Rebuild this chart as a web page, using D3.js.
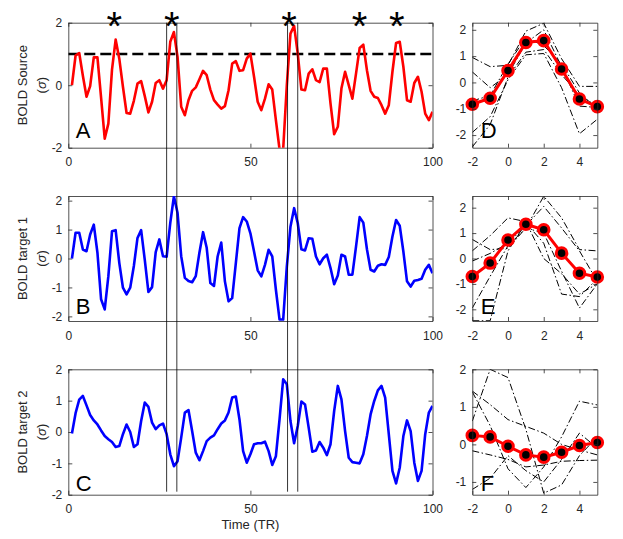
<!DOCTYPE html>
<html>
<head>
<meta charset="utf-8">
<script src="https://cdn.jsdelivr.net/npm/d3@7"></script>
<style>
  body { margin: 0; background: #fff; }
  text { font-family: "Liberation Sans", Arial, sans-serif; }
</style>
</head>
<body>
<div id="chart"></div>
<script>
// BOLD time series, one value per TR (1..100)
const sourceVals = [0, 0.95, 1.03, 0.3, -0.37, -0.03, 0.89, 0.89, -0.4, -1.71,
  -1.23, 0.5, 1.46, 0.85, -0.05, -0.89, -0.91, -0.5, 0.05, 0.13,
  -0.35, -0.87, -0.53, 0.07, 0.16, -0.11, 0.16, 1.39, 1.7, 0.9,
  -0.69, -0.96, -0.48, -0.18, -0.07, 0.19, 0.46, 0.32, -0.14, -0.48,
  -0.62, -0.75, -0.67, -0.16, 0.69, 0.77, 0.46, 0.48, 0.85, 1.01,
  0.27, -0.53, -0.8, -0.43, 0.03, -0.14, -1.12, -2.05, -2.05, 0.0,
  1.65, 1.9, 1.01, -0.14, -0.16, 0.37, 0.51, 0.16, 0.1, 0.53,
  0.53, -0.59, -1.57, -1.33, -0.1, 0.43, 0, -0.43, 0.37, 1.19,
  1.3, 0.48, -0.18, -0.37, -0.41, -0.64, -0.91, -0.64, 0.43, 1.35,
  1.39, 0.59, -0.48, -0.53, 0.07, 0.27, -0.21, -0.91, -1.12, -0.85];

const target1Vals = [0, 0.89, 0.89, 0.31, 0.25, 0.83, 1.17, 0.2, -1.41, -1.76,
  -0.61, 0.94, 0.98, -0.15, -1.01, -1.24, -1.01, -0.26, 0.71, 0.98,
  -0.05, -1.16, -0.99, 0.22, 0.66, 0.08, 0.06, 1.23, 2.15, 1.57,
  0.08, -0.67, -0.78, -0.82, -0.61, 0.2, 0.91, 0.37, -0.85, -0.95,
  0.07, 0.55, -0.79, -1.48, -1.37, -0.16, 1.05, 1.43, 1.28, 0.87,
  0.24, -0.41, -0.62, -0.22, 0.3, 0.07, -1.08, -2.11, -2.11, -0.28,
  1.1, 1.74, 1.22, 0.32, 0.28, 0.7, 0.68, 0.07, -0.2, 0.01,
  0.13, -0.33, -0.89, -0.59, 0.13, 0.07, -0.56, -0.56, 0.41, 1.43,
  1.24, 0.32, -0.39, -0.45, -0.25, -0.2, -0.22, 0.05, 0.76, 1.33,
  1.13, 0.24, -0.79, -0.97, -0.77, -0.74, -0.7, -0.39, -0.22, -0.51];

const target2Vals = [-0.05, 0.6, 1.03, 1.15, 0.85, 0.54, 0.37, 0.24, 0.05, -0.13,
  -0.23, -0.32, -0.48, -0.45, -0.07, 0.24, 0.0, -0.48, -0.39, 0.35,
  0.94, 0.8, 0.3, 0.09, 0.21, 0.27, -0.07, -0.71, -1.09, -0.93,
  -0.18, 0.62, 0.7, 0.03, -0.66, -0.9, -0.61, -0.29, -0.18, -0.11,
  0.09, 0.27, 0.37, 0.62, 1.1, 1.13, 0.4, -0.61, -0.98, -0.71,
  -0.39, -0.36, -0.36, -0.31, -0.61, -1.05, -0.77, 0.4, 1.68, 1.52,
  0.35, -0.36, 0.19, 0.97, 0.88, 0.14, -0.63, -0.59, -0.32, -0.5,
  -0.74, -0.39, 0.67, 1.47, 1.04, 0.03, -0.82, -0.96, -0.98, -1.0,
  -0.71, -0.13, 0.56, 0.99, 1.33, 1.47, 1.1, -0.07, -1.24, -1.64,
  -1.14, -0.13, 0.37, 0.03, -0.98, -1.56, -1.24, -0.07, 0.62, 0.83];

const threshold = 1;
const eventTimes = [12.6, 28.4, 60.6, 80, 90.2];   // stars
const windowEdges = [27, 29.8, 60.2, 63];          // vertical lines

// event-locked segments, lags -2..5
const lags = [-2, -1, 0, 1, 2, 3, 4, 5];
const segSource = [
  [0.95, 0.6, 0.65, 1.95, 2.25, 0.9, -0.15, -0.15],
  [0.4, -0.2, 0.3, 1.5, 2.0, 0.6, -0.9, -0.95],
  [-1.9, -1.3, 0.1, 1.05, 1.1, -0.2, -1.95, -1.4],
  [-2.45, -1.6, 0.2, 1.15, 1.25, 0.3, -0.5, -0.9],
  [-0.7, -0.5, 0.7, 1.7, 1.4, 0.7, -0.4, -1.0]
];
const meanSource = [-0.83, -0.6, 0.45, 1.52, 1.59, 0.51, -0.63, -0.92];

const segTarget1 = [
  [0.75, 0.35, 0.4, 1.2, 2.45, 1.6, 0.35, 0.3],
  [0.3, 0.9, 1.6, 1.45, 0.0, -0.6, -1.4, -1.0],
  [-0.1, 0.2, 0.6, 1.3, 2.05, 1.2, 0.3, -0.9],
  [-1.95, -0.7, 0.5, 1.2, 1.0, -0.5, -1.95, -1.0],
  [-2.45, -2.45, 0.3, 1.4, 0.6, -1.4, -1.5, -0.8]
];
const meanTarget1 = [-0.71, -0.18, 0.73, 1.35, 1.13, 0.21, -0.58, -0.73];

const segTarget2 = [
  [0.62, 2.0, 1.78, 0.4, -1.3, -1.08, -0.3, 0.2],
  [1.42, 1.06, 0.66, 0.48, 0.3, 0.0, -0.15, -0.28],
  [1.4, 0.5, -0.65, -1.15, -0.6, 0.2, 1.15, 1.05],
  [-0.17, -0.28, -0.4, -0.6, -0.55, -0.45, -0.43, -0.42],
  [-1.2, -0.9, -0.3, -0.7, -1.0, -0.4, 0.3, -0.1]
];
const meanTarget2 = [0.24, 0.2, -0.05, -0.28, -0.34, -0.21, -0.03, 0.05];

const timeTicks = [0, 50, 100];
const lagTicks = [-2, 0, 2, 4];

const width = 623, height = 539;
const ink = '#262626';
const fmt = d => String(d);   // plain hyphen minus, no decimals

const svg = d3.select('#chart')
  .append('svg')
  .attr('width', width)
  .attr('height', height);

const xTime = d3.scaleLinear().domain([0, 100]).range([68.3, 432.5]);
const xLag = d3.scaleLinear().domain([-2, 5]).range([472.3, 597.3]);

const rows = [
  { vals: sourceVals, color: '#ff0000', top: 22.7, bottom: 147.7, dom: [-2, 2], ticks: [-2, 0, 2],
    name: 'BOLD Source', letter: 'A', letterOff: 9.7,
    seg: segSource, mean: meanSource, lagDom: [-2.48, 2.27], lagLetter: 'D', lagLetterOff: 9.7 },
  { vals: target1Vals, color: '#0000ff', top: 196, bottom: 321, dom: [-2.16, 2.16], ticks: [-2, -1, 0, 1, 2],
    name: 'BOLD target 1', letter: 'B', letterOff: 7,
    seg: segTarget1, mean: meanTarget1, lagDom: [-2.46, 2.46], lagLetter: 'E', lagLetterOff: 7 },
  { vals: target2Vals, color: '#0000ff', top: 369.3, bottom: 494.7, dom: [-2, 2], ticks: [-2, -1, 0, 1, 2],
    name: 'BOLD target 2', letter: 'C', letterOff: 3.3,
    seg: segTarget2, mean: meanTarget2, lagDom: [-1.34, 2], lagLetter: 'F', lagLetterOff: 3.3 }
];

const styleAxis = (g) => {
  g.selectAll('.domain').attr('stroke', ink).attr('stroke-width', 0.8);
  g.selectAll('.tick line').attr('stroke', ink).attr('stroke-width', 0.8);
  g.selectAll('.tick text').attr('fill', ink).style('font-size', '12px')
    .style('font-family', '"Liberation Sans", Arial, sans-serif');
};

// box with inward ticks on all four sides
const drawBox = (x, y, xt, yt, top, bottom) => {
  const [x0, x1] = x.range();
  svg.append('g').attr('transform', `translate(0,${bottom})`)
    .call(d3.axisBottom(x).tickValues(xt).tickFormat(fmt).tickSize(-4).tickSizeOuter(0).tickPadding(10))
    .call(styleAxis);
  svg.append('g').attr('transform', `translate(0,${top})`)
    .call(d3.axisTop(x).tickValues(xt).tickSize(-4).tickSizeOuter(0).tickFormat(''))
    .call(styleAxis);
  svg.append('g').attr('transform', `translate(${x0},0)`)
    .call(d3.axisLeft(y).tickValues(yt).tickFormat(fmt).tickSize(-4).tickSizeOuter(0).tickPadding(6))
    .call(styleAxis);
  svg.append('g').attr('transform', `translate(${x1},0)`)
    .call(d3.axisRight(y).tickValues(yt).tickSize(-4).tickSizeOuter(0).tickFormat(''))
    .call(styleAxis);
};

const clipRect = (id, x, top, bottom) => {
  const [x0, x1] = x.range();
  svg.append('clipPath').attr('id', id)
    .append('rect')
    .attr('x', x0).attr('y', top)
    .attr('width', x1 - x0).attr('height', bottom - top);
};

rows.forEach((r, i) => {
  // ---- time series panel ----
  const y = d3.scaleLinear().domain(r.dom).range([r.bottom, r.top]);
  drawBox(xTime, y, timeTicks, r.ticks, r.top, r.bottom);
  clipRect('clipT' + i, xTime, r.top, r.bottom);

  const line = d3.line()
    .x((d, k) => xTime(k + 1))
    .y(d => y(d));

  const plot = svg.append('g').attr('clip-path', `url(#clipT${i})`);

  if (i === 0) {
    plot.append('line')
      .attr('x1', xTime(0)).attr('x2', xTime(100))
      .attr('y1', y(threshold)).attr('y2', y(threshold))
      .attr('stroke', '#000')
      .attr('stroke-width', 2.6)
      .attr('stroke-dasharray', '11,5');
  }

  plot.append('path')
    .datum(r.vals)
    .attr('fill', 'none')
    .attr('stroke', r.color)
    .attr('stroke-width', 2.6)
    .attr('stroke-linejoin', 'round')
    .attr('d', line);

  svg.append('text')
    .attr('x', xTime(0) + 7.5)
    .attr('y', r.bottom - r.letterOff)
    .style('font-size', '22px')
    .attr('fill', '#000')
    .text(r.letter);

  const cy = (r.top + r.bottom) / 2;
  svg.append('text')
    .attr('transform', `translate(22,${cy}) rotate(-90)`)
    .attr('text-anchor', 'middle')
    .attr('dominant-baseline', 'central')
    .attr('fill', ink)
    .style('font-size', '13px')
    .text(r.name);
  svg.append('text')
    .attr('transform', `translate(41,${cy}) rotate(-90)`)
    .attr('text-anchor', 'middle')
    .attr('dominant-baseline', 'central')
    .attr('fill', ink)
    .style('font-size', '13px')
    .html('(<tspan font-style="italic">σ</tspan>)');

  // ---- event-locked panel ----
  const yL = d3.scaleLinear().domain(r.lagDom).range([r.bottom, r.top]);
  const yLt = d3.range(Math.ceil(r.lagDom[0]), Math.floor(r.lagDom[1]) + 1);
  clipRect('clipL' + i, xLag, r.top, r.bottom);
  const lp = svg.append('g').attr('clip-path', `url(#clipL${i})`);

  const lagLine = d3.line()
    .x((d, k) => xLag(lags[k]))
    .y(d => yL(d));

  lp.selectAll('path.seg')
    .data(r.seg)
    .join('path')
    .attr('class', 'seg')
    .attr('fill', 'none')
    .attr('stroke', '#000')
    .attr('stroke-width', 1)
    .attr('stroke-dasharray', '7,2.5,1.5,2.5')
    .attr('d', lagLine);

  svg.append('path')
    .datum(r.mean)
    .attr('fill', 'none')
    .attr('stroke', '#ff0000')
    .attr('stroke-width', 3)
    .attr('d', lagLine);

  svg.append('g')
    .selectAll('circle')
    .data(r.mean)
    .join('circle')
    .attr('cx', (d, k) => xLag(lags[k]))
    .attr('cy', d => yL(d))
    .attr('r', 5.3)
    .attr('fill', '#000')
    .attr('stroke', '#ff0000')
    .attr('stroke-width', 3);

  drawBox(xLag, yL, lagTicks, yLt, r.top, r.bottom);

  svg.append('text')
    .attr('x', xLag(-2) + 8.5)
    .attr('y', r.bottom - r.lagLetterOff)
    .style('font-size', '22px')
    .attr('fill', '#000')
    .text(r.lagLetter);
});

// stars above panel A at threshold crossings
svg.append('g')
  .selectAll('text')
  .data(eventTimes)
  .join('text')
  .attr('x', d => xTime(d))
  .attr('y', 40)
  .attr('text-anchor', 'middle')
  .style('font-size', '40px')
  .attr('fill', '#000')
  .text('*');

// window lines crossing all three time panels
svg.append('g')
  .selectAll('line')
  .data(windowEdges)
  .join('line')
  .attr('x1', d => xTime(d)).attr('x2', d => xTime(d))
  .attr('y1', rows[0].top).attr('y2', 491.7)
  .attr('stroke', '#000')
  .attr('stroke-width', 0.8);

svg.append('text')
  .attr('x', xTime(50))
  .attr('y', 529)
  .attr('text-anchor', 'middle')
  .attr('fill', ink)
  .style('font-size', '13px')
  .text('Time (TR)');
</script>
</body>
</html>
